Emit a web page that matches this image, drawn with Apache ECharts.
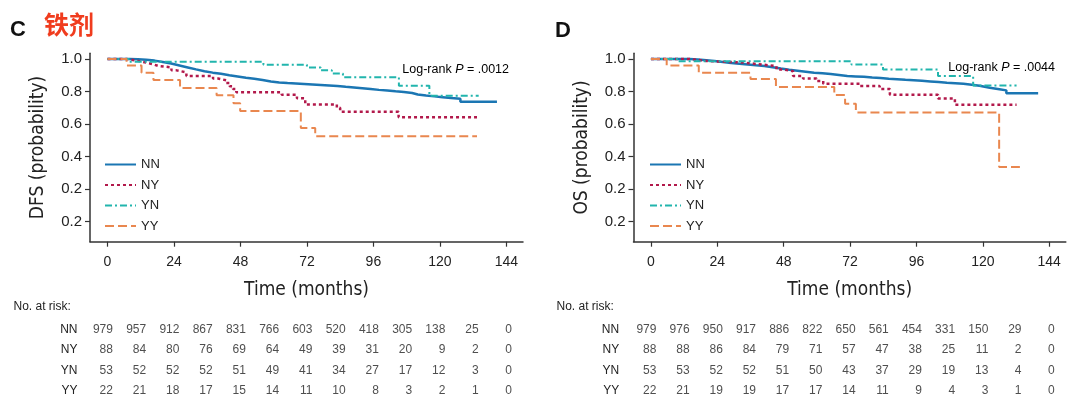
<!DOCTYPE html>
<html>
<head>
<meta charset="utf-8">
<script src="https://cdn.jsdelivr.net/npm/echarts@6.0.0/dist/echarts.min.js"></script>
<style>
html,body{margin:0;padding:0;background:#fff;}
#c{width:1080px;height:407px;}
</style>
</head>
<body>
<div id="c"></div>
<script>
// ---------- data ----------
const groups = ['NN', 'NY', 'YN', 'YY'];
const xTicks = [0, 24, 48, 72, 96, 120, 144];
const yTickVals = [0, 0.2, 0.4, 0.6, 0.8, 1.0];
const yTickLabels = ['0.2', '0.2', '0.4', '0.6', '0.8', '1.0'];
const riskTimes = [0, 12, 24, 36, 48, 60, 72, 84, 96, 108, 120, 132, 144];

// DFS (panel C) Kaplan-Meier estimates: [months, probability]
const dfsNN = [[0,1],[4,1],[8,0.998],[11,0.995],[14,0.99],[17,0.981],[20,0.972],[23,0.96],[26,0.948],[29,0.936],[32,0.925],[35,0.916],[38,0.909],[41,0.9],[44,0.892],[47,0.884],[50,0.878],[53,0.871],[56,0.862],[59,0.856],[62,0.852],[65,0.849],[68,0.846],[71,0.843],[74,0.84],[77,0.837],[80,0.834],[83,0.829],[86,0.825],[89,0.82],[92,0.815],[95,0.81],[98,0.806],[101,0.801],[104,0.797],[107,0.791],[110,0.782],[112,0.775],[115,0.77],[118,0.765],[121,0.76],[124,0.755],[127.4,0.737],[140.6,0.737]];
const dfsNY = [[0,1],[6.8,0.99],[10.4,0.978],[14,0.968],[16.4,0.958],[18.2,0.948],[23.1,0.93],[24.9,0.918],[28.5,0.895],[38.1,0.88],[39.9,0.869],[42.9,0.852],[44.1,0.832],[45.3,0.815],[46.5,0.795],[62.9,0.78],[68.4,0.758],[71.4,0.72],[82.8,0.70],[84,0.676],[105.1,0.641],[133.4,0.641]];
const dfsYN = [[0,1],[8,0.983],[56.3,0.965],[72,0.948],[77,0.93],[81,0.91],[85,0.888],[105.2,0.836],[116.2,0.774],[134,0.774]];
const dfsYY = [[0,1],[6.9,0.96],[12.3,0.915],[16.6,0.87],[26.2,0.822],[39.4,0.777],[45.5,0.727],[47.9,0.68],[69.8,0.575],[75,0.525],[133.4,0.525]];

// OS (panel D)
const osNN = [[0,1],[11.7,1],[14,0.997],[17,0.992],[20,0.987],[23,0.981],[26,0.976],[29,0.971],[32,0.966],[35,0.961],[38,0.957],[41,0.949],[44,0.941],[47,0.934],[50,0.928],[53,0.922],[56,0.916],[59,0.912],[62,0.908],[65,0.902],[68,0.896],[71,0.893],[74,0.89],[77,0.886],[80,0.883],[83,0.879],[86,0.876],[89,0.872],[92,0.869],[95,0.866],[98,0.862],[101,0.858],[104,0.854],[107,0.851],[110,0.847],[113,0.841],[116,0.835],[118.8,0.823],[122.5,0.814],[126,0.807],[128.5,0.79],[140,0.79]];
const osNY = [[0,1],[10,1],[14,0.988],[20,0.978],[33.4,0.966],[40,0.956],[45.4,0.935],[48,0.925],[51.4,0.895],[55,0.88],[59.9,0.865],[62.3,0.848],[75.5,0.834],[82.7,0.816],[86.4,0.78],[103.8,0.757],[109.9,0.718],[132.2,0.718]];
const osYN = [[0,1],[10,0.986],[72.5,0.966],[83.9,0.936],[103.8,0.895],[116.5,0.837],[132.2,0.837]];
const osYY = [[0,1],[5.7,0.96],[17.3,0.915],[36,0.877],[45.2,0.828],[66.3,0.778],[70.2,0.725],[74.1,0.671],[125.9,0.336],[133.4,0.336]];

// Numbers at risk
const riskDfsNN = [979,957,912,867,831,766,603,520,418,305,138,25,0];
const riskDfsNY = [88,84,80,76,69,64,49,39,31,20,9,2,0];
const riskDfsYN = [53,52,52,52,51,49,41,34,27,17,12,3,0];
const riskDfsYY = [22,21,18,17,15,14,11,10,8,3,2,1,0];
const riskOsNN = [979,976,950,917,886,822,650,561,454,331,150,29,0];
const riskOsNY = [88,88,86,84,79,71,57,47,38,25,11,2,0];
const riskOsYN = [53,53,52,52,51,50,43,37,29,19,13,4,0];
const riskOsYY = [22,21,19,19,17,17,14,11,9,4,3,1,0];

// ---------- styles ----------
const colors = {NN: '#1b76b3', NY: '#b2194b', YN: '#22b5ad', YY: '#e9874f'};
const dash = {NN: 'solid', NY: [3, 3], YN: [7, 3, 2, 3], YY: [9, 4]};
const widths = {NN: 2.5, NY: 2.5, YN: 2, YY: 2};
const FONT = '"Liberation Sans", Arial, sans-serif';
const NARROW = '"Liberation Sans Narrow", "DejaVu Sans Condensed", "Liberation Sans", sans-serif';

const grids = [
  {left: 90, top: 53.3, width: 433, height: 188.4},
  {left: 633.5, top: 53.3, width: 432.3, height: 188.4},
  {left: 90, top: 319, width: 433, height: 82},
  {left: 633.5, top: 319, width: 432.3, height: 82}
];

function plotXAxis(gi, name) {
  return {
    type: 'value', gridIndex: gi, min: -6.3, max: 150,
    name: name, nameLocation: 'middle', nameGap: 39,
    nameTextStyle: {fontFamily: NARROW, fontSize: 19, color: '#222'},
    axisLine: {show: true, onZero: false, lineStyle: {color: '#333', width: 1.5}},
    axisTick: {show: true, length: 5, customValues: xTicks, lineStyle: {color: '#333', width: 1.2}},
    axisLabel: {customValues: xTicks, margin: 13, fontFamily: FONT, fontSize: 14, color: '#222'},
    splitLine: {show: false}
  };
}
function plotYAxis(gi, name) {
  return {
    type: 'value', gridIndex: gi, min: -0.124, max: 1.035,
    name: name, nameLocation: 'middle', nameGap: 42, nameRotate: 90,
    nameTextStyle: {fontFamily: NARROW, fontSize: 19, color: '#222'},
    axisLine: {show: true, onZero: false, lineStyle: {color: '#333', width: 1.5}},
    axisTick: {show: true, length: 5, customValues: yTickVals, lineStyle: {color: '#333', width: 1.2}},
    axisLabel: {customValues: yTickVals, margin: 8, fontFamily: FONT, fontSize: 15, color: '#222',
      formatter: v => yTickLabels[Math.round(v * 5)]},
    splitLine: {show: false}
  };
}
function tableXAxis(gi) {
  return {type: 'value', gridIndex: gi, min: -6.3, max: 150, show: false};
}
function tableYAxis(gi, margin) {
  return {
    type: 'category', gridIndex: gi, data: groups, inverse: true,
    axisLine: {show: false}, axisTick: {show: false}, splitLine: {show: false},
    axisLabel: {margin: margin, fontFamily: FONT, fontSize: 12, color: '#222'}
  };
}

function curve(name, data, axisIdx) {
  return {
    type: 'line', name: name, data: data, step: 'end',
    xAxisIndex: axisIdx, yAxisIndex: axisIdx,
    symbol: 'none', showSymbol: false, animation: false,
    lineStyle: {color: colors[name], width: widths[name], type: dash[name]},
    itemStyle: {color: colors[name]},
    z: name === 'NN' ? 2 : 3
  };
}

function riskSeries(rows, axisIdx) {
  const data = [];
  rows.forEach((arr, r) => {
    arr.forEach((n, i) => data.push([riskTimes[i], groups[r], n]));
  });
  return {
    type: 'scatter', data: data, xAxisIndex: axisIdx, yAxisIndex: axisIdx,
    symbolSize: 1, itemStyle: {color: 'rgba(0,0,0,0)'}, animation: false, silent: true,
    label: {show: true, position: 'inside', align: 'right', verticalAlign: 'middle', offset: [5.5, 0],
      formatter: p => String(p.value[2]), fontFamily: FONT, fontSize: 12, color: '#222'}
  };
}

function legend(left) {
  return {
    orient: 'vertical', left: left, top: 153, itemWidth: 31, itemHeight: 10, itemGap: 7.5,
    data: groups,
    itemStyle: {opacity: 0},
    textStyle: {fontFamily: FONT, fontSize: 13, color: '#222'},
    selectedMode: false
  };
}

const logRankRich = {
  a: {fontFamily: FONT, fontSize: 12.5, color: '#222'},
  i: {fontFamily: FONT, fontSize: 12.5, color: '#222', fontStyle: 'italic'}
};

const option = {
  backgroundColor: '#fff',
  animation: false,
  grid: grids,
  xAxis: [plotXAxis(0, 'Time (months)'), plotXAxis(1, 'Time (months)'), tableXAxis(2), tableXAxis(3)],
  yAxis: [plotYAxis(0, 'DFS (probability)'), plotYAxis(1, 'OS (probability)'), tableYAxis(2, 12.5), tableYAxis(3, 14.3)],
  legend: [legend(99), legend(644)],
  series: [
    curve('NN', dfsNN, 0), curve('NY', dfsNY, 0), curve('YN', dfsYN, 0), curve('YY', dfsYY, 0),
    curve('NN', osNN, 1), curve('NY', osNY, 1), curve('YN', osYN, 1), curve('YY', osYY, 1),
    riskSeries([riskDfsNN, riskDfsNY, riskDfsYN, riskDfsYY], 2),
    riskSeries([riskOsNN, riskOsNY, riskOsYN, riskOsYY], 3)
  ],
  graphic: [
    {type: 'text', left: 10, top: 19, style: {text: 'C', font: 'bold 22px ' + FONT, fill: '#111'}},
    {type: 'text', left: 44, top: 12, style: {text: '铁剂', font: 'bold 25px "Noto Sans CJK SC", sans-serif', fill: '#f03c1e'}},
    {type: 'text', left: 555, top: 20, style: {text: 'D', font: 'bold 22px ' + FONT, fill: '#111'}},
    {type: 'text', x: 509, y: 69.3, style: {text: '{a|Log-rank }{i|P}{a| = .0012}', rich: logRankRich, align: 'right', verticalAlign: 'middle'}},
    {type: 'text', x: 1055, y: 67.3, style: {text: '{a|Log-rank }{i|P}{a| = .0044}', rich: logRankRich, align: 'right', verticalAlign: 'middle'}},
    {type: 'text', x: 13.5, y: 306.7, style: {text: 'No. at risk:', font: '12px ' + FONT, fill: '#222', verticalAlign: 'middle'}},
    {type: 'text', x: 556.5, y: 306.7, style: {text: 'No. at risk:', font: '12px ' + FONT, fill: '#222', verticalAlign: 'middle'}}
  ]
};

const chart = echarts.init(document.getElementById('c'), null, {renderer: 'canvas'});
chart.setOption(option);
</script>
</body>
</html>
